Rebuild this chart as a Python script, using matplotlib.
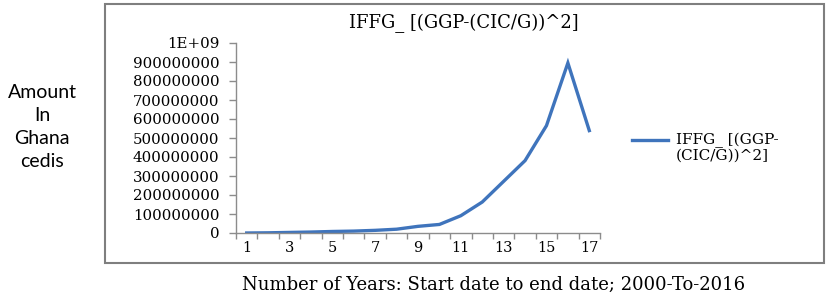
import matplotlib.pyplot as plt
from matplotlib.patches import Rectangle
from matplotlib.lines import Line2D

# data
years = list(range(1, 18))
amounts = [0, 1e6, 3e6, 5e6, 8e6, 10e6, 14e6, 20e6, 35e6, 45e6,
           91e6, 163e6, 272e6, 381e6, 565e6, 895e6, 539e6]
y_ticks = [i * 1e8 for i in range(11)]
y_tick_labels = ["0", "100000000", "200000000", "300000000", "400000000",
                 "500000000", "600000000", "700000000", "800000000",
                 "900000000", "1E+09"]
x_label_pos = [1, 3, 5, 7, 9, 11, 13, 15, 17]

legend_name = "IFFG_ [(GGP-\n(CIC/G))^2]"
title = "IFFG_ [(GGP-(CIC/G))^2]"
y_title = "Amount\nIn\nGhana\ncedis"
x_title = "Number of Years: Start date to end date; 2000-To-2016"

serif = ["DejaVu Serif"]
line_color = "#3F74BC"
axis_color = "#8C8C8C"

fig = plt.figure(figsize=(8.29, 2.99), dpi=100)
ax = fig.add_axes([236 / 829, 1 - 233 / 299, 364 / 829, 190 / 299])

ax.plot(years, amounts, color=line_color, linewidth=2.4, solid_joinstyle="miter")

ax.set_xlim(0.5, 17.5)
ax.set_ylim(0, 1e9)

# tick marks on category boundaries, labels on odd categories
ax.set_xticks([b + 0.5 for b in range(0, 18)])
ax.set_xticklabels([])
ax.set_xticks(x_label_pos, minor=True)
ax.set_xticklabels([str(v) for v in x_label_pos], minor=True, family=serif, fontsize=10.5)
ax.tick_params(axis="x", which="major", length=4, color=axis_color, width=1)
ax.tick_params(axis="x", which="minor", length=0, pad=6)

ax.set_yticks(y_ticks)
ax.set_yticklabels(y_tick_labels, family=serif, fontsize=10.8)
ax.tick_params(axis="y", length=5, color=axis_color, width=1, pad=7)

for side in ["top", "right"]:
    ax.spines[side].set_visible(False)
for side in ["left", "bottom"]:
    ax.spines[side].set_color(axis_color)
    ax.spines[side].set_linewidth(1)

fig.text(464 / 829, 1 - 23 / 299, title, ha="center", va="center",
         family=serif, fontsize=13)

# legend key and label, key lined up with the first label line
fig.add_artist(Line2D([632 / 829, 668 / 829], [1 - 140 / 299, 1 - 140 / 299],
                      transform=fig.transFigure, color=line_color, linewidth=2.4))
fig.text(676 / 829, 1 - 133 / 299, legend_name, ha="left", va="top",
         family=serif, fontsize=11, linespacing=1.05)

fig.text(42 / 829, 1 - 127 / 299, y_title, ha="center", va="center",
         family=["Lato", "DejaVu Sans"], fontsize=14, linespacing=1.45)

fig.text(494 / 829, 1 - 285 / 299, x_title, ha="center", va="center",
         family=serif, fontsize=13)

# outer chart frame
fig.add_artist(Rectangle((105 / 829, 1 - 263 / 299), 719 / 829, 259 / 299,
                         transform=fig.transFigure, fill=False,
                         edgecolor="#7F7F7F", linewidth=1.5))

fig.savefig("out.png", dpi=100)
